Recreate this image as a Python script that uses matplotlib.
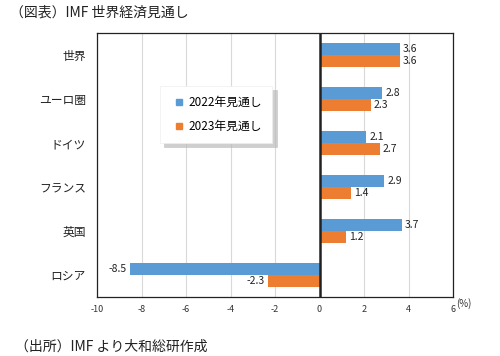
import matplotlib
matplotlib.use("Agg")
import matplotlib.pyplot as plt
from matplotlib.lines import Line2D
import numpy as np

plt.rcParams['font.family'] = ['Noto Sans CJK JP', 'DejaVu Sans']

# ---------- data ----------
countries = ["世界", "ユーロ圏", "ドイツ", "フランス", "英国", "ロシア"]
f2022 = [3.6, 2.8, 2.1, 2.9, 3.7, -8.5]
f2023 = [3.6, 2.3, 2.7, 1.4, 1.2, -2.3]
series_names = ["2022年見通し", "2023年見通し"]
xticks = [-10, -8, -6, -4, -2, 0, 2, 4, 6]

BLUE = "#5B9BD5"
ORANGE = "#ED7D31"

fig = plt.figure(figsize=(5.0, 3.56), dpi=100)
ax = fig.add_axes([0.194, 0.166, 0.712, 0.741])

y = np.arange(len(countries))
h = 0.28
b1 = ax.barh(y - h / 2, f2022, height=h, color=BLUE, zorder=3)
b2 = ax.barh(y + h / 2, f2023, height=h, color=ORANGE, zorder=3)

for bars, vals in ((b1, f2022), (b2, f2023)):
    for rect, v in zip(bars, vals):
        yy = rect.get_y() + rect.get_height() / 2
        if v >= 0:
            ax.text(v + 0.15, yy, f"{v:.1f}", va="center", ha="left", fontsize=7.5, color="#222222")
        else:
            ax.text(v - 0.15, yy, f"{v:.1f}", va="center", ha="right", fontsize=7.5, color="#222222")

ax.set_ylim(len(countries) - 0.5, -0.5)
ax.set_xlim(-10, 6)
ax.set_xticks(xticks)
ax.set_xticklabels([str(t) for t in xticks], fontsize=6.5, color="#333333")
ax.set_yticks(y)
ax.set_yticklabels(countries, fontsize=8.5, color="#222222")
ax.tick_params(axis="x", length=0, pad=6)
ax.tick_params(axis="y", length=0, pad=8)

ax.grid(axis="x", color="#D9D9D9", linewidth=0.8, zorder=0)
ax.axvline(0, color="#222222", linewidth=1.8, zorder=4)
for s in ax.spines.values():
    s.set_color("#222222")
    s.set_linewidth(0.9)

ax.text(6.15, -0.005, "(%)", transform=ax.get_xaxis_transform(), fontsize=7,
        va="top", ha="left", color="#333333")

# legend with small square markers
handles = [Line2D([], [], linestyle="none", marker="s", markersize=5, color=c)
           for c in (BLUE, ORANGE)]
leg = ax.legend(handles, series_names, loc="upper left", bbox_to_anchor=(0.177, 0.8),
                fontsize=8.5, frameon=True, fancybox=False,
                shadow={"color": "#BBBBBB", "alpha": 0.7, "ox": 3, "oy": -3},
                handlelength=1.6, handletextpad=0.0,
                labelspacing=0.95, borderpad=0.85, borderaxespad=0)
leg.get_frame().set_edgecolor("#EEEEEE")
leg.get_frame().set_linewidth(0.5)

fig.text(0.02, 0.966, "（図表）IMF 世界経済見通し", fontsize=10, va="center", ha="left", color="#222222")
fig.text(0.03, 0.025, "（出所）IMF より大和総研作成", fontsize=10, va="center", ha="left", color="#222222")

fig.savefig("out.png", dpi=100)
